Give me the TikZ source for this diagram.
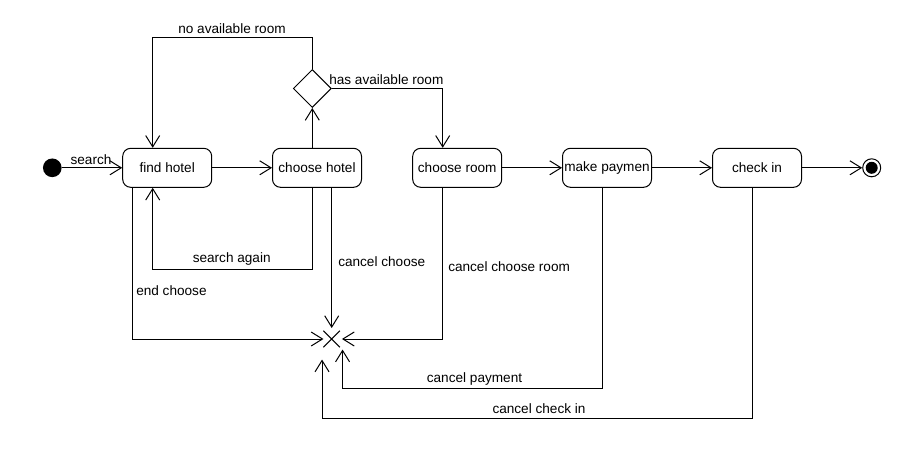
\documentclass[tikz,border=0pt]{standalone}
\usepackage{fontspec}
\setmainfont{Liberation Sans}
\usetikzlibrary{arrows.meta,shapes.geometric,calc}
\begin{document}
\begin{tikzpicture}[x=0.75pt,y=-0.75pt,
  every node/.style={font=\fontsize{10.2pt}{12pt}\selectfont},
  stbox/.style={draw, rounded corners=6pt, minimum width=66.75pt, minimum height=29.25pt, inner sep=0pt, line width=0.75pt},
  flow/.style={line width=0.75pt, -{Straight Barb[length=8.5pt,width=10.5pt]}},
  lbl/.style={inner sep=0pt}]
\useasboundingbox (0,0) rectangle (914,453);
% states
\node[circle, fill=black, minimum size=14pt, inner sep=0pt] (init) at (52.3,167.8) {};
\node[stbox] (fh) at (167.2,167.8) {find hotel};
\node[stbox] (ch) at (317,167.8) {choose hotel};
\node[stbox] (cr) at (457.2,167.8) {choose room};
\node[stbox] (mp) at (607,167.8) {make paymen};
\node[stbox] (ci) at (757,167.8) {check in};
\node[diamond, draw, line width=0.75pt, minimum width=28.5pt, minimum height=28.5pt, inner sep=0pt] (dec) at (312.3,88.5) {};
\node[circle, draw, line width=0.75pt, minimum size=13.5pt, inner sep=0pt] (final) at (871.7,167.8) {};
\node[circle, fill=black, minimum size=9pt, inner sep=0pt] (finalin) at (final) {};
\node[minimum size=12pt, inner sep=0pt] (fin) at (331.7,339) {};
\draw[line width=0.75pt] (fin.north west) -- (fin.south east) (fin.north east) -- (fin.south west);
% connectors
\draw[flow] (init.east) -- (fh.west);
\draw[flow] (fh.east) -- (ch.west);
\draw[flow] (cr.east) -- (mp.west);
\draw[flow] (mp.east) -- (ci.west);
\draw[flow] (ci.east) -- (final.west);
\draw[flow] (dec.south |- ch.north) -- (dec.south);
\draw[flow] (dec.north) -- ++(0,-31.2) -| ($(fh.north)+(-14.5,0)$);
\draw[flow] (dec.east) -| ($(cr.north)+(-14.5,0)$);
\draw[flow] (dec.south |- ch.south) -- ++(0,81.3) -| ($(fh.south)+(-14.5,0)$);
\draw[flow] ($(fh.south)+(-34.5,0)$) |- (fin.west);
\draw[flow] (fin.north |- ch.south) -- ($(fin.north)+(0,-2.7)$);
\draw[flow] ($(cr.south)+(-15,0)$) |- ($(fin.east)+(2,0)$);
\draw[flow] ($(mp.south)+(-4.7,0)$) -- ++(0,200.7) -| ($(fin.south east)+(2.6,2.3)$);
\draw[flow] ($(ci.south)+(-4.7,0)$) -- ++(0,231) -| ($(fin.south west)+(-1.4,12.3)$);
% labels
\node[lbl] (lsearch) at (91,160) {search};
\node[lbl] (lnoav) at (232,29) {no available room};
\node[lbl, anchor=west] (lhas) at (329,80) {has available room};
\node[lbl] (lagain) at (231.7,259) {search again};
\node[lbl, anchor=west] (lend) at (136,290.7) {end choose};
\node[lbl, anchor=west] (lcc) at (338,261.7) {cancel choose};
\node[lbl, anchor=west] (lccr) at (448,266.7) {cancel choose room};
\node[lbl] (lcp) at (474.5,379) {cancel payment};
\node[lbl] (lci) at (539,409) {cancel check in};
\end{tikzpicture}
\end{document}
